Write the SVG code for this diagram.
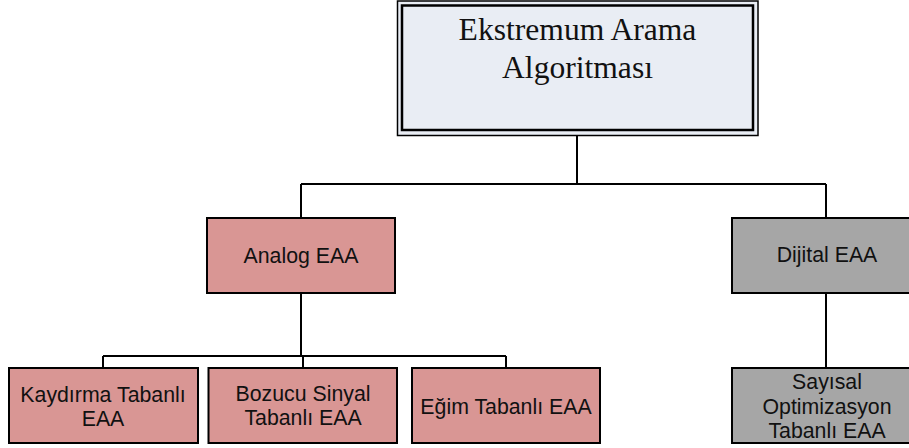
<svg xmlns="http://www.w3.org/2000/svg" width="909" height="448" viewBox="0 0 909 448">
  <style>
    .box { stroke: #000; stroke-width: 2; }
    .analog { fill: #d99694; }
    .digital { fill: #a6a6a6; }
    .lbl { font-family: "Liberation Sans", Arial, sans-serif; font-size: 21.3px; fill: #111; text-anchor: middle; }
    .title { font-family: "Liberation Serif", "Times New Roman", serif; font-size: 31.6px; fill: #111; text-anchor: middle; }
    .wire { fill: none; stroke: #000; stroke-width: 2; }
  </style>
  <rect width="909" height="448" fill="#fff"/>

  <!-- connectors -->
  <g id="connectors" class="wire">
    <path d="M577 135 V184 M301 184 H826 M301 184 V218 M826 184 V218"/>
    <path d="M301 293 V356 M103 356 H506 M103 356 V368 M303 356 V368 M506 356 V368"/>
    <path d="M826 293 V368"/>
  </g>

  <!-- root -->
  <g id="root">
    <rect x="397.5" y="1" width="360.5" height="134.5" fill="#e9edf4" stroke="#000" stroke-width="1.5"/>
    <rect x="402" y="5.5" width="351" height="124.5" fill="#e9edf4" stroke="#000" stroke-width="2.5"/>
    <text class="title" x="577.5" y="40">Ekstremum Arama</text>
    <text class="title" x="577.5" y="78">Algoritması</text>
  </g>

  <g id="analog">
    <rect class="box analog" x="207" y="218" width="188" height="75"/>
    <text class="lbl" x="301" y="263">Analog EAA</text>
  </g>

  <g id="dijital">
    <rect class="box digital" x="732" y="218" width="189" height="75"/>
    <text class="lbl" x="827" y="262">Dijital EAA</text>
  </g>

  <g id="kaydirma">
    <rect class="box analog" x="9" y="368" width="189" height="75"/>
    <text class="lbl" x="103" y="401.5">Kaydırma Tabanlı</text>
    <text class="lbl" x="103" y="426">EAA</text>
  </g>

  <g id="bozucu">
    <rect class="box analog" x="208.5" y="368" width="188.5" height="75"/>
    <text class="lbl" x="303" y="400.5">Bozucu Sinyal</text>
    <text class="lbl" x="303" y="425">Tabanlı EAA</text>
  </g>

  <g id="egim">
    <rect class="box analog" x="412" y="368" width="188" height="75"/>
    <text class="lbl" x="506" y="414">Eğim Tabanlı EAA</text>
  </g>

  <g id="sayisal">
    <rect class="box digital" x="732" y="368" width="189" height="75"/>
    <text class="lbl" x="827" y="389">Sayısal</text>
    <text class="lbl" x="827" y="413.5">Optimizasyon</text>
    <text class="lbl" x="827" y="438">Tabanlı EAA</text>
  </g>
</svg>
